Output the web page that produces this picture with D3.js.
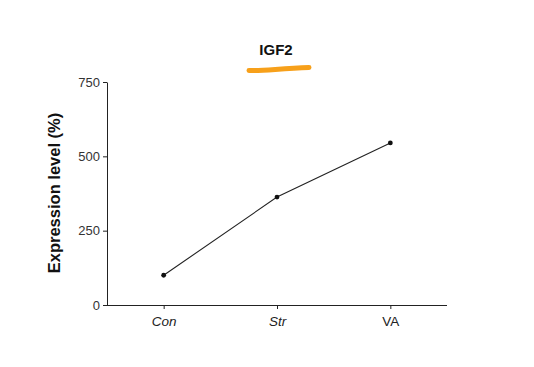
<!DOCTYPE html>
<html><head><meta charset="utf-8">
<script src="https://cdn.jsdelivr.net/npm/d3@7"></script>
<style>body{margin:0;background:#fff}svg{display:block}</style>
</head><body>
<script>
const categories = ["Con", "Str", "VA"];
const values = [100, 363, 545];
const yTicks = [0, 250, 500, 750];
const title = "IGF2";
const yLabel = "Expression level (%)";

const W = 534, H = 367;
const svg = d3.select("body").append("svg").attr("width", W).attr("height", H);
const x = d3.scalePoint().domain(categories).range([107, 447]).padding(0.5);
const y = d3.scaleLinear().domain([0, 750]).range([305, 82]);

const font = "Arial, 'Liberation Sans', sans-serif";

// x axis
const xa = svg.append("g").attr("transform", "translate(0,305)")
  .call(d3.axisBottom(x).tickSize(4).tickPadding(7).tickSizeOuter(0));
xa.select(".domain").attr("stroke", "#222").attr("d", "M103,0.5H447");
xa.selectAll("text").attr("font-family", font).attr("font-size", 13.5)
  .attr("font-style", (d) => d === "VA" ? "normal" : "italic").attr("fill", "#222");
xa.selectAll("line").attr("stroke", "#222");

// y axis
const ya = svg.append("g").attr("transform", "translate(107,0)")
  .call(d3.axisLeft(y).tickValues(yTicks).tickSize(4).tickPadding(3).tickSizeOuter(0));
ya.select(".domain").attr("stroke", "#222");
ya.selectAll("text").attr("font-family", font).attr("font-size", 13).attr("fill", "#333");
ya.selectAll("line").attr("stroke", "#222");

// line
const line = d3.line().x((d, i) => x(categories[i])).y(d => y(d));
svg.append("path").datum(values).attr("d", line).attr("fill", "none")
  .attr("stroke", "#222").attr("stroke-width", 1.1);
svg.selectAll("circle.pt").data(values).enter().append("circle")
  .attr("cx", (d, i) => x(categories[i])).attr("cy", d => y(d)).attr("r", 2.4).attr("fill", "#111");

// title
svg.append("text").attr("x", 276).attr("y", 55).attr("text-anchor", "middle")
  .attr("font-family", font).attr("font-size", 15).attr("font-weight", "bold").attr("fill", "#111").text(title);
// orange underline stroke
svg.append("path").attr("d", "M249,70.5 C262,71 280,68.5 309,67.5")
  .attr("stroke", "#f7a01a").attr("stroke-width", 5).attr("stroke-linecap", "round").attr("fill", "none");

// y label
svg.append("text").attr("transform", "translate(60,193) rotate(-90)").attr("text-anchor", "middle")
  .attr("font-family", font).attr("font-size", 16.5).attr("font-weight", "bold").attr("fill", "#111").text(yLabel);
</script>
</body></html>
